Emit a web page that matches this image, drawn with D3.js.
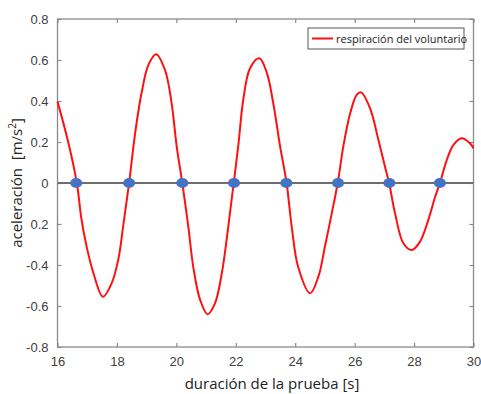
<!DOCTYPE html>
<html><head><meta charset="utf-8">
<script src="https://cdn.jsdelivr.net/npm/d3@7"></script>
<style>body{margin:0;background:#fff}svg{display:block}</style>
</head><body><svg id="c" width="481" height="394"></svg>
<script>
// data
const timeS = [16.00,16.36,16.65,16.81,16.98,17.21,17.53,17.82,18.05,18.21,18.41,18.61,18.83,19.06,19.32,19.62,19.84,20.01,20.20,20.40,20.57,20.80,21.05,21.30,21.53,21.75,21.93,22.09,22.25,22.48,22.79,23.04,23.26,23.49,23.71,23.88,24.10,24.50,24.78,25.00,25.23,25.43,25.62,25.85,26.07,26.22,26.52,26.80,27.02,27.16,27.36,27.64,27.92,28.20,28.48,28.71,28.87,29.10,29.32,29.60,29.88,30.00];
const accel = [0.397,0.20,0.00,-0.18,-0.31,-0.44,-0.555,-0.49,-0.37,-0.21,0.00,0.24,0.44,0.576,0.628,0.55,0.39,0.18,0.00,-0.21,-0.41,-0.57,-0.64,-0.587,-0.44,-0.21,0.00,0.19,0.405,0.56,0.608,0.54,0.39,0.18,0.00,-0.21,-0.41,-0.538,-0.457,-0.31,-0.148,0.00,0.18,0.34,0.43,0.442,0.364,0.21,0.08,0.00,-0.148,-0.294,-0.327,-0.286,-0.18,-0.067,0.00,0.112,0.185,0.218,0.194,0.169];
const crossings = [16.63,18.41,20.20,21.94,23.70,25.44,27.17,28.87];
const xTicks = [16,18,20,22,24,26,28,30];
const yTicks = [-0.8,-0.6,-0.4,-0.2,0,0.2,0.4,0.6,0.8];
const yTickLabels = ["-0.8","-0.6","-0.4","0.2","0","0.2","0.4","0.6","0.8"];
const seriesName = "respiración del voluntario";

const svg = d3.select("#c");
const L = 57.5, R = 473.5, T = 19, B = 347;
const x = d3.scaleLinear().domain([16,30]).range([L,R]);
const y = d3.scaleLinear().domain([-0.8,0.8]).range([B,T]);
const axisCol = "#8a8a8a", txtCol = "#404040";
const tickFont = "Liberation Sans, Arial, sans-serif";

// box
svg.append("rect").attr("x",L).attr("y",T).attr("width",R-L).attr("height",B-T)
  .attr("fill","none").attr("stroke",axisCol).attr("stroke-width",1.3);

// axes with inward ticks
const gx = svg.append("g").attr("transform",`translate(0,${B})`)
  .call(d3.axisBottom(x).tickValues(xTicks).tickSize(-4).tickPadding(10).tickFormat(d3.format("d")));
const gxt = svg.append("g").attr("transform",`translate(0,${T})`)
  .call(d3.axisTop(x).tickValues(xTicks).tickSize(-4).tickFormat(""));
const gy = svg.append("g").attr("transform",`translate(${L},0)`)
  .call(d3.axisLeft(y).tickValues(yTicks).tickSize(-4).tickPadding(9).tickFormat((d,i)=>yTickLabels[i]));
const gyr = svg.append("g").attr("transform",`translate(${R},0)`)
  .call(d3.axisRight(y).tickValues(yTicks).tickSize(-4).tickFormat(""));
[gx,gxt,gy,gyr].forEach(g=>{
  g.select(".domain").remove();
  g.selectAll(".tick line").attr("stroke",axisCol).attr("stroke-width",1.2);
  g.selectAll(".tick text").attr("fill",txtCol).attr("font-family",tickFont).attr("font-size",13);
});

// zero line
svg.append("line").attr("x1",x(16)).attr("x2",x(30)).attr("y1",y(0)).attr("y2",y(0))
  .attr("stroke","#6e6e6e").attr("stroke-width",2);

// curve
const pts = timeS.map((t,i)=>[t,accel[i]]);
svg.append("path").datum(pts)
  .attr("d",d3.line().x(d=>x(d[0])).y(d=>y(d[1])).curve(d3.curveCatmullRom.alpha(0.5)))
  .attr("fill","none").attr("stroke","#ff1010").attr("stroke-width",2);

// dots
svg.selectAll("ellipse.dot").data(crossings).enter().append("ellipse")
  .attr("cx",d=>x(d)).attr("cy",y(0)).attr("rx",6).attr("ry",5).attr("fill","#4472c4");

// legend
const lg = svg.append("g");
lg.append("rect").attr("x",308).attr("y",28).attr("width",156).attr("height",21)
  .attr("fill","#fff").attr("stroke","#555").attr("stroke-width",1);
lg.append("line").attr("x1",312).attr("x2",333).attr("y1",38.5).attr("y2",38.5)
  .attr("stroke","#ff1010").attr("stroke-width",2);
lg.append("text").attr("x",336).attr("y",42.5).attr("font-family","Open Sans, sans-serif")
  .attr("font-size",11).attr("fill","#222").text(seriesName);

// axis labels
svg.append("text").attr("x",272).attr("y",389).attr("text-anchor","middle")
  .attr("font-family","Open Sans, sans-serif").attr("font-size",15).attr("fill","#222")
  .text("duración de la prueba [s]");
const yl = svg.append("text").attr("transform",`translate(22,${(T+B)/2}) rotate(-90)`)
  .attr("text-anchor","middle").attr("font-family","Open Sans, sans-serif")
  .attr("font-size",15).attr("fill","#222");
yl.append("tspan").text("aceleración\u00a0\u00a0[m/s");
yl.append("tspan").attr("dy",-6).attr("font-size",10).text("2");
yl.append("tspan").attr("dy",6).text("]");
</script></body></html>
